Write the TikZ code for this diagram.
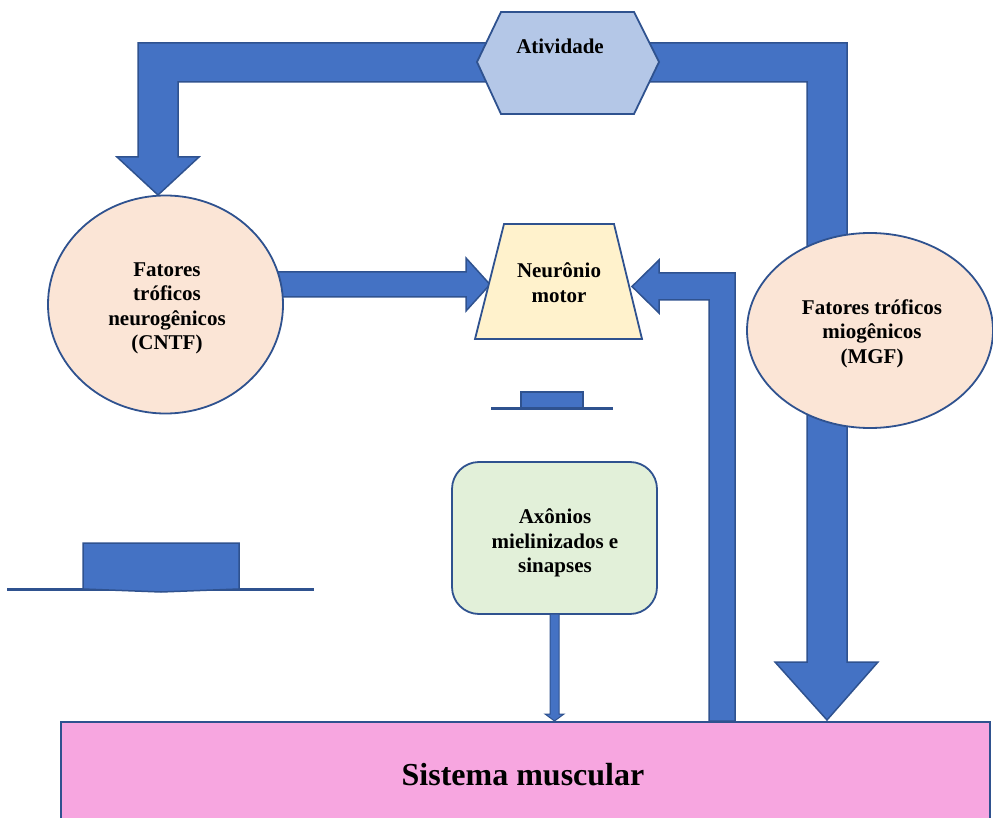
\documentclass[tikz,border=0pt]{standalone}
\usepackage{fontspec}
\setmainfont{Liberation Serif}
\usetikzlibrary{shapes.geometric}
\definecolor{arrowblue}{HTML}{4472C4}
\definecolor{edgeblue}{HTML}{2F528F}
\definecolor{hexfill}{HTML}{B4C7E7}
\definecolor{peach}{HTML}{FBE5D6}
\definecolor{cream}{HTML}{FFF2CC}
\definecolor{mint}{HTML}{E2F0D9}
\definecolor{pinkfill}{HTML}{F7A6E0}
\begin{document}
\begin{tikzpicture}[x=1pt,y=-1pt,
 blockarrow/.style={fill=arrowblue,draw=edgeblue,line width=1.5pt,line join=miter},
 shapeborder/.style={draw=edgeblue,line width=1.8pt},
 lbl/.style={font=\fontsize{21}{24.5}\selectfont\bfseries,align=center,text=black}]
\path[use as bounding box, clip] (0,0) rectangle (993,818);

% muscle system
\node[shapeborder, fill=pinkfill, minimum width=929pt, minimum height=108pt, anchor=north west, inner sep=0pt] (musc) at (60,721) {};
\node[font=\fontsize{32}{36}\selectfont\bfseries] (musctxt) at (523,775) {Sistema muscular};

% top U arrow (Atividade -> CNTF and -> muscle)
\draw[blockarrow] (138,43) -- (847,43) -- (847,662) -- (878,662) -- (827,720) -- (775,662) -- (807,662) -- (807,82) -- (178,82) -- (178,157) -- (199,157) -- (158,195) -- (117,157) -- (138,157) -- cycle;

% CNTF -> neuron
\draw[blockarrow] (250,272) -- (466,272) -- (466,258) -- (490,284.5) -- (466,311) -- (466,297) -- (250,297) -- cycle;

% muscle -> neuron
\draw[blockarrow] (709,721) -- (709,300) -- (659,300) -- (659,313) -- (632,286.5) -- (659,260) -- (659,273) -- (735,273) -- (735,721) -- cycle;

% hexagon
\draw[shapeborder, fill=hexfill] (477,62) -- (501,12) -- (634,12) -- (659,62) -- (634,114) -- (501,114) -- cycle;
\node[lbl] (ativ) at (560,46) {Atividade};

% ellipses
\node[ellipse, shapeborder, fill=peach, minimum width=235pt, minimum height=218pt, inner sep=0pt] (cntf) at (165.5,304.5) {};
\node[lbl] (cntftxt) at (167,308.5) {Fatores\\tróficos\\neurogênicos\\(CNTF)};
\node[ellipse, shapeborder, fill=peach, minimum width=246pt, minimum height=195pt, inner sep=0pt] (mgf) at (870,330.5) {};
\node[lbl] (mgftxt) at (872,333.5) {Fatores tróficos\\miogênicos\\(MGF)};

% motor neuron trapezoid
\draw[shapeborder, fill=cream] (504,224) -- (614,224) -- (642,339) -- (475,339) -- cycle;
\node[lbl] (neuron) at (559,282.5) {Neurônio\\motor};

% axons box
\node[shapeborder, fill=mint, rounded corners=27pt, minimum width=205pt, minimum height=152pt, inner sep=0pt] (axon) at (554.5,538) {};
\node[lbl] (axontxt) at (555,543) {Axônios\\mielinizados e\\sinapses};

% thin arrow axon -> muscle
\draw[blockarrow, line width=1pt] (550,614) -- (550,714) -- (545,714) -- (554.5,721) -- (564,714) -- (559,714) -- (559,614) -- cycle;

% small decorations
\draw[edgeblue, line width=3pt] (491,408) -- (613,408);
\draw[blockarrow] (521,392) rectangle (583,408);
\draw[edgeblue, line width=3pt] (7,589) -- (314,589);
\draw[blockarrow] (83,543) -- (239,543) -- (239,589) -- (161,592) -- (83,589) -- cycle;
\end{tikzpicture}
\end{document}
